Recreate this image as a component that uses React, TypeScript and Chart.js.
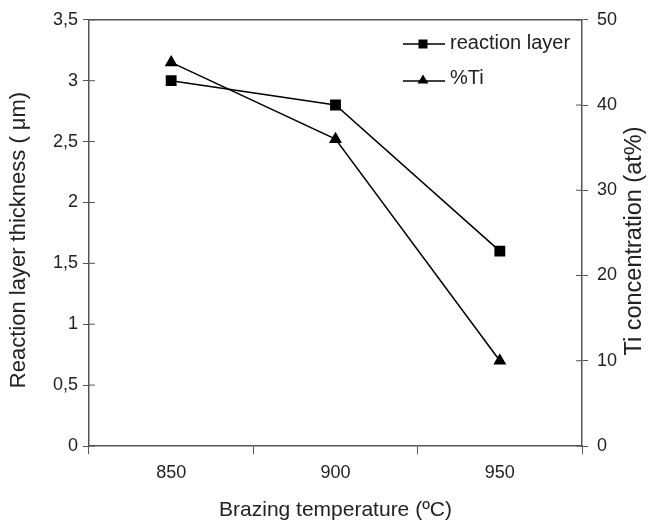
import React, { useEffect, useRef } from "react";
import { Chart, registerables } from "chart.js";

Chart.register(...registerables);

const categories = ["850", "900", "950"];
const reactionLayer = [3.0, 2.8, 1.6];
const tiPercent = [45, 36, 10];
const leftTicks = [0, 0.5, 1, 1.5, 2, 2.5, 3, 3.5];
const rightTicks = [0, 10, 20, 30, 40, 50];
const seriesNames = ["reaction layer", "%Ti"];
const xTitle = "Brazing temperature (ºC)";
const yTitle = "Reaction layer thickness ( \u03bcm)";
const y2Title = "Ti concentration (at%)";

const FONT = "'Liberation Sans', Arial, sans-serif";
const AXIS = "#555";
const TEXT = "#222";

const decorPlugin = {
  id: "decor",
  afterDraw(chart: any) {
    const ctx = chart.ctx;
    const a = chart.chartArea;
    const y = chart.scales.y;
    const y2 = chart.scales.y2;
    ctx.save();
    ctx.strokeStyle = AXIS;
    ctx.lineWidth = 1.5;
    ctx.beginPath();
    ctx.moveTo(a.left, a.top);
    ctx.lineTo(a.right, a.top);
    ctx.stroke();
    ctx.lineWidth = 1;
    y.ticks.forEach((t: any) => {
      const p = y.getPixelForValue(t.value);
      ctx.beginPath();
      ctx.moveTo(a.left, p);
      ctx.lineTo(a.left + 6, p);
      ctx.stroke();
    });
    y2.ticks.forEach((t: any) => {
      const p = y2.getPixelForValue(t.value);
      ctx.beginPath();
      ctx.moveTo(a.right, p);
      ctx.lineTo(a.right - 6, p);
      ctx.stroke();
    });
    ctx.restore();

    const vtitle = (text: string, x: number, yc: number, size: number) => {
      ctx.save();
      ctx.fillStyle = TEXT;
      ctx.font = `${size}px ${FONT}`;
      ctx.textAlign = "center";
      ctx.textBaseline = "middle";
      ctx.translate(x, yc);
      ctx.rotate(-Math.PI / 2);
      ctx.fillText(text, 0, 0);
      ctx.restore();
    };
    vtitle(yTitle, 19, 240, 22);
    vtitle(y2Title, 635, 241, 23.5);

    ctx.save();
    const items = [
      { label: seriesNames[0], style: "rect", yy: 44, ty: 43 },
      { label: seriesNames[1], style: "triangle", yy: 81, ty: 78 },
    ];
    items.forEach((it) => {
      ctx.strokeStyle = "#000";
      ctx.fillStyle = "#000";
      ctx.lineWidth = 1.5;
      ctx.beginPath();
      ctx.moveTo(403, it.yy);
      ctx.lineTo(445, it.yy);
      ctx.stroke();
      const cx = 423;
      if (it.style === "rect") {
        ctx.fillRect(cx - 4.5, it.yy - 4.5, 9, 9);
      } else {
        ctx.beginPath();
        ctx.moveTo(cx, it.yy - 6.5);
        ctx.lineTo(cx + 5.5, it.yy + 2.5);
        ctx.lineTo(cx - 5.5, it.yy + 2.5);
        ctx.closePath();
        ctx.fill();
      }
      ctx.fillStyle = TEXT;
      ctx.font = `20px ${FONT}`;
      ctx.textAlign = "left";
      ctx.textBaseline = "middle";
      ctx.fillText(it.label, 450, it.ty);
    });
    ctx.restore();
  },
};

export default function App() {
  const ref = useRef<HTMLCanvasElement>(null);
  useEffect(() => {
    if (!ref.current) return;
    const chart = new Chart(ref.current, {
      type: "line",
      data: {
        labels: categories,
        datasets: [
          {
            label: seriesNames[0],
            data: reactionLayer,
            yAxisID: "y",
            borderColor: "#000",
            backgroundColor: "#000",
            borderWidth: 1.5,
            pointStyle: "rect",
            pointRadius: 6.6,
            pointHoverRadius: 6.6,
            tension: 0,
          },
          {
            label: seriesNames[1],
            data: tiPercent,
            yAxisID: "y2",
            borderColor: "#000",
            backgroundColor: "#000",
            borderWidth: 1.5,
            pointStyle: "triangle",
            pointRadius: 6,
            pointHoverRadius: 6,
            tension: 0,
          },
        ],
      },
      options: {
        animation: false,
        responsive: true,
        maintainAspectRatio: false,
        layout: { padding: { top: 17, left: 0, right: 0, bottom: 0 } },
        plugins: { legend: { display: false }, tooltip: { enabled: false } },
        scales: {
          x: {
            type: "category",
            offset: true,
            grid: {
              offset: true,
              drawOnChartArea: false,
              drawTicks: true,
              tickLength: 8,
              color: AXIS,
              lineWidth: 1,
            },
            border: { color: AXIS, width: 1.5 },
            ticks: { color: TEXT, font: { family: FONT, size: 18 }, padding: 8 },
            title: {
              display: true,
              text: xTitle,
              color: TEXT,
              font: { family: FONT, size: 21 },
              padding: { top: 0, bottom: 0 },
            },
            afterFit(s: any) {
              s.height = 77;
            },
          },
          y: {
            position: "left",
            min: 0,
            max: 3.5,
            afterBuildTicks(s: any) {
              s.ticks = leftTicks.map((v) => ({ value: v }));
            },
            grid: { drawOnChartArea: false, tickLength: 6, color: AXIS },
            border: { color: AXIS, width: 1.5 },
            ticks: {
              color: TEXT,
              font: { family: FONT, size: 18 },
              padding: 5,
              callback: (v: any) => String(v).replace(".", ","),
            },
            afterFit(s: any) {
              s.width = 89;
            },
          },
          y2: {
            position: "right",
            min: 0,
            max: 50,
            afterBuildTicks(s: any) {
              s.ticks = rightTicks.map((v) => ({ value: v }));
            },
            grid: { drawOnChartArea: false, tickLength: 6, color: AXIS },
            border: { color: AXIS, width: 1.5 },
            ticks: { color: TEXT, font: { family: FONT, size: 18 }, padding: 9 },
            afterFit(s: any) {
              s.width = 67;
            },
          },
        },
      } as any,
      plugins: [decorPlugin],
    });
    return () => chart.destroy();
  }, []);
  return (
    <div style={{ position: "fixed", left: 0, top: 0, width: 649, height: 523, background: "#fff" }}>
      <canvas ref={ref} />
    </div>
  );
}
